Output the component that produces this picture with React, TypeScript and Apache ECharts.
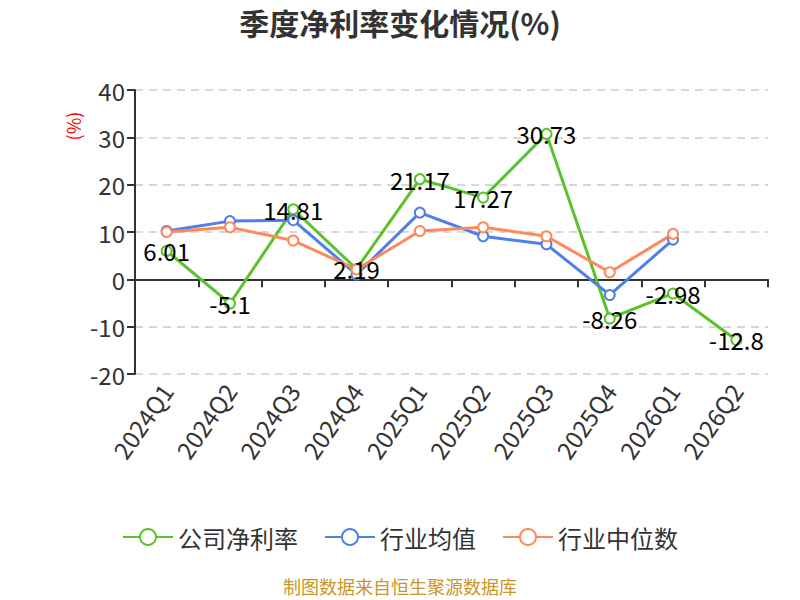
import React, { useEffect, useRef } from "react";
import * as echarts from "echarts";

const categories = ["2024Q1", "2024Q2", "2024Q3", "2024Q4", "2025Q1", "2025Q2", "2025Q3", "2025Q4", "2026Q1", "2026Q2"];
const companyRate = [6.01, -5.1, 14.81, 2.19, 21.17, 17.27, 30.73, -8.26, -2.98, -12.8];
const industryMean = [10.2, 12.3, 12.5, 1.0, 14.1, 9.1, 7.4, -3.3, 8.4, null];
const industryMedian = [10.0, 11.0, 8.2, 2.1, 10.2, 11.0, 9.1, 1.5, 9.6, null];
const seriesNames = ["公司净利率", "行业均值", "行业中位数"];
const yTicks = { min: -20, max: 40, interval: 10 };

const FONT = "'Noto Sans CJK SC', 'Noto Sans', sans-serif";

export default function App() {
  const ref = useRef<HTMLDivElement>(null);
  useEffect(() => {
    document.body.style.margin = "0";
    if (!ref.current) return;
    const chart = echarts.init(ref.current, undefined, { renderer: "svg" });
    const colors = ["#5ac22a", "#4f80e6", "#fd8a5b"];
    const mk = (name: string, data: (number | null)[], color: string, label: boolean) => ({
      name,
      type: "line",
      data,
      xAxisIndex: 0,
      symbol: "emptyCircle",
      symbolSize: 10,
      lineStyle: { width: 3, color },
      itemStyle: { color, borderWidth: 2 },
      label: label
        ? { show: true, position: "inside", color: "#000", fontSize: 24, fontFamily: FONT }
        : { show: false },
    });
    chart.setOption({
      animation: false,
      textStyle: { fontFamily: FONT },
      title: [
        {
          text: "季度净利率变化情况(%)",
          left: "center",
          top: 2,
          textStyle: { fontSize: 30, fontWeight: "bold", color: "#333", fontFamily: FONT },
        },
        {
          text: "制图数据来自恒生聚源数据库",
          left: "center",
          bottom: 0,
          textStyle: { fontSize: 18, fontWeight: "normal", color: "#c8962a", fontFamily: FONT },
        },
      ],
      legend: {
        data: seriesNames,
        bottom: 46,
        left: "center",
        itemWidth: 50,
        itemHeight: 20,
        itemGap: 26,
        textStyle: { fontSize: 24, color: "#333", fontFamily: FONT },
      },
      grid: { left: 135, right: 32, top: 90, bottom: 226 },
      graphic: [
        {
          type: "text",
          x: 73,
          y: 126,
          rotation: Math.PI / 2,
          style: { text: "(%)", fill: "#ff0000", fontSize: 18, fontFamily: FONT, align: "center", verticalAlign: "middle" },
        },
      ],
      xAxis: [
        {
          type: "category",
          data: categories,
          position: "bottom",
          boundaryGap: true,
          axisLine: { show: false, onZero: false },
          axisTick: { show: false },
          axisLabel: { rotate: 55, fontSize: 24, color: "#333", margin: 12, fontFamily: FONT },
        },
        {
          type: "category",
          data: categories,
          position: "bottom",
          boundaryGap: true,
          axisLine: { show: true, onZero: true, lineStyle: { color: "#333", width: 2 } },
          axisTick: { show: true, length: 8, lineStyle: { color: "#333", width: 2 } },
          axisLabel: { show: false },
          splitLine: { show: false },
        },
      ],
      yAxis: {
        type: "value",
        min: yTicks.min,
        max: yTicks.max,
        interval: yTicks.interval,
        axisLine: { show: true, lineStyle: { color: "#333", width: 2 } },
        axisTick: { show: true, length: 8, lineStyle: { color: "#333", width: 2 } },
        axisLabel: { fontSize: 24, color: "#333", margin: 10, fontFamily: FONT },
        splitLine: { show: true, lineStyle: { type: [8, 6], color: "#ccc", width: 1.5 } },
      },
      series: [
        mk(seriesNames[0], companyRate, colors[0], true),
        mk(seriesNames[1], industryMean, colors[1], false),
        mk(seriesNames[2], industryMedian, colors[2], false),
      ],
    });
    return () => chart.dispose();
  }, []);
  return <div ref={ref} style={{ width: 800, height: 600 }} />;
}
